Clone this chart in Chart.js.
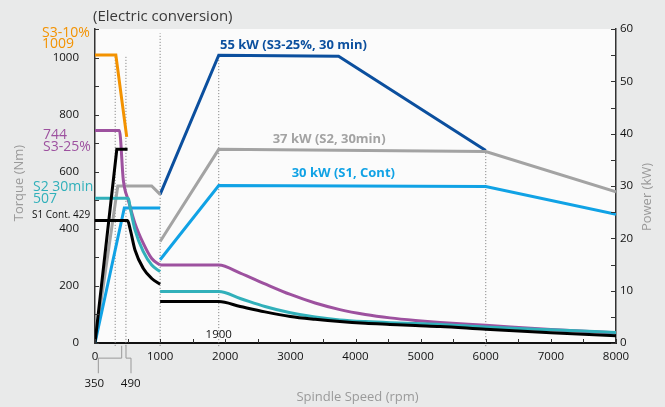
<!DOCTYPE html>
<html>
<head>
<meta charset="utf-8">
<script src="https://cdn.jsdelivr.net/npm/chart.js@4.4.1/dist/chart.umd.min.js"></script>
<style>
  html, body { margin: 0; padding: 0; background: #e9eaea; }
  #wrap { width: 665px; height: 407px; position: relative; }
</style>
</head>
<body>
<div id="wrap"><canvas id="chart"></canvas></div>
<script>
// ---- torque curves, 0-1000 rpm (left axis, Nm) ----
const s3_10Rpm = [0, 320, 487];
const s3_10Torque = [1009, 1009, 722];
const s3_25LowRpm = [0, 375, 435, 512, 614, 742, 871, 1000];
const s3_25LowTorque = [744, 744, 570, 500, 419, 349, 296, 273];
const s2LowRpm = [0, 512, 538, 614, 742, 871, 1000];
const s2LowTorque = [507, 507, 477, 396, 320, 273, 250];
const s1LowRpm = [0, 500, 538, 614, 742, 871, 1000];
const s1LowTorque = [429, 429, 401, 326, 261, 226, 206];

// ---- torque curves, 1000-8000 rpm ----
const highRpm = [1000, 1900, 2230, 2610, 3000, 3380, 3760, 4150, 4530, 4920, 5300, 6000, 7000, 8000];
const s3_25HighTorque = [273, 273, 245, 207, 170, 140, 117, 100, 88, 79, 72, 62, 47, 36];
const s2HighTorque = [180, 180, 156, 128, 106, 91, 81, 75, 71, 68, 65, 56, 46, 37];
const s1HighTorque = [145, 145, 128, 109, 93, 83, 75, 69, 65, 61, 58, 48, 36, 25];

// ---- power curves (right axis, kW) ----
const peakPowerRpm = [0, 335, 500];
const peakPower = [0, 37, 37];
const s2LowPowerRpm = [0, 350, 870, 1000];
const s2LowPower = [0, 30, 30, 28.4];
const s1LowPowerRpm = [0, 450, 1000];
const s1LowPower = [0, 25.8, 25.8];
const s3_25PowerRpm = [1000, 1900, 3740, 6000];
const s3_25Power = [28.4, 55, 54.8, 36.8];
const s2PowerRpm = [1000, 1900, 6000, 8000];
const s2Power = [19.4, 37, 36.6, 28.9];
const s1PowerRpm = [1000, 1900, 6000, 8000];
const s1Power = [15.9, 30.1, 29.9, 24.6];

// ---- dotted guides and the 350 / 490 brackets ----
const torqueGuideRpm = [310, 475, 1000];
const torqueGuideTop = [1009, 1009, 1085];
const powerGuideRpm = [1900, 6000];
const powerGuideTop = [55, 36.8];
const bracket350Rpm = [51, 51, 410, 410];
const bracket490Rpm = [553, 553, 476, 476];
const bracketTorque = [-106, -53, -53, -10];

const FONT = "'Open Sans', sans-serif";
const C = {
  orange: '#f39200', purple: '#9d519f', teal: '#31b0ba', cyan: '#10a2e5',
  navy: '#0b4f9e', gray: '#a3a3a3', black: '#000000', guide: '#777777', axisTitle: '#9a9a9a'
};

const pts = (xs, ys) => xs.map((x, i) => ({ x, y: ys[i] }));

function curve(xs, ys, color, axis) {
  return { data: pts(xs, ys), borderColor: color, borderWidth: 3, pointRadius: 0,
    yAxisID: axis, tension: 0.35, cubicInterpolationMode: 'monotone', fill: false };
}
function straight(xs, ys, color, axis) {
  return { data: pts(xs, ys), borderColor: color, borderWidth: 3, pointRadius: 0,
    yAxisID: axis, tension: 0, fill: false };
}
function guide(x, top, axis) {
  return { data: [{ x, y: axis === 'y' ? -10 : -0.6 }, { x, y: top }], borderColor: C.guide,
    borderWidth: 1, borderDash: [1, 2], pointRadius: 0, yAxisID: axis, clip: false };
}
function bracket(xs) {
  return { data: pts(xs, bracketTorque), borderColor: '#999999', borderWidth: 1,
    pointRadius: 0, yAxisID: 'y', clip: false, tension: 0 };
}

const datasets = [
  straight(peakPowerRpm, peakPower, C.black, 'y2'),
  straight(s3_10Rpm, s3_10Torque, C.orange, 'y'),
  curve(s1LowRpm, s1LowTorque, C.black, 'y'),
  curve(s2LowRpm, s2LowTorque, C.teal, 'y'),
  curve(s3_25LowRpm, s3_25LowTorque, C.purple, 'y'),
  straight(s1LowPowerRpm, s1LowPower, C.cyan, 'y2'),
  straight(s2LowPowerRpm, s2LowPower, C.gray, 'y2'),
  curve(highRpm, s1HighTorque, C.black, 'y'),
  curve(highRpm, s2HighTorque, C.teal, 'y'),
  curve(highRpm, s3_25HighTorque, C.purple, 'y'),
  straight(s1PowerRpm, s1Power, C.cyan, 'y2'),
  straight(s2PowerRpm, s2Power, C.gray, 'y2'),
  straight(s3_25PowerRpm, s3_25Power, C.navy, 'y2'),
  ...torqueGuideRpm.map((x, i) => guide(x, torqueGuideTop[i], 'y')),
  ...powerGuideRpm.map((x, i) => guide(x, powerGuideTop[i], 'y2')),
  bracket(bracket350Rpm),
  bracket(bracket490Rpm)
];

// text placed with the scales: value axis + rpm, or offset from the plot's left edge
const notes = [
  { text: '55 kW (S3-25%, 30 min)', rpm: 1919, axis: 'y2', v: 56.8, color: C.navy, font: 'bold 13px ' + FONT },
  { text: '37 kW (S2, 30min)', rpm: 2728, axis: 'y2', v: 39.0, color: C.gray, font: 'bold 13px ' + FONT },
  { text: '30 kW (S1, Cont)', rpm: 3020, axis: 'y2', v: 32.5, color: C.cyan, font: 'bold 13px ' + FONT },
  { text: '1900', rpm: 1900, axis: 'y', v: 28, color: '#111', font: '11.5px ' + FONT, align: 'center' },
  { text: '350', rpm: -11, axis: 'y', v: -141, color: '#111', font: '11.5px ' + FONT, align: 'center' },
  { text: '490', rpm: 548, axis: 'y', v: -141, color: '#111', font: '11.5px ' + FONT, align: 'center' },
  { text: 'S3-10%', dx: -53, axis: 'y', v: 1087, color: C.orange, font: '14px ' + FONT },
  { text: '1009', dx: -53, axis: 'y', v: 1048, color: C.orange, font: '14px ' + FONT },
  { text: '744', dx: -52, axis: 'y', v: 728, color: C.purple, font: '14px ' + FONT },
  { text: 'S3-25%', dx: -52, axis: 'y', v: 687, color: C.purple, font: '14px ' + FONT },
  { text: 'S2 30min', dx: -62, axis: 'y', v: 546, color: C.teal, font: '14px ' + FONT },
  { text: '507', dx: -62, axis: 'y', v: 503, color: C.teal, font: '14px ' + FONT },
  { text: 'S1 Cont. 429', dx: -63, axis: 'y', v: 448, color: '#111', font: '10px ' + FONT }
];

const decor = {
  id: 'decor',
  beforeDraw(chart) {
    const { ctx, chartArea: a } = chart;
    ctx.save();
    ctx.fillStyle = '#fbfbfb';
    ctx.fillRect(a.left, a.top, a.right - a.left, a.bottom - a.top);
    ctx.restore();
  },
  afterDraw(chart) {
    const { ctx, chartArea: a, scales } = chart;
    ctx.save();
    // inward tick marks
    ctx.strokeStyle = '#333';
    ctx.lineWidth = 1;
    scales.x.ticks.forEach(t => {
      const p = Math.round(scales.x.getPixelForValue(t.value)) + 0.5;
      ctx.beginPath(); ctx.moveTo(p, a.bottom); ctx.lineTo(p, a.bottom - 4); ctx.stroke();
    });
    scales.y.ticks.forEach(t => {
      const p = Math.round(scales.y.getPixelForValue(t.value)) + 0.5;
      ctx.beginPath(); ctx.moveTo(a.left, p); ctx.lineTo(a.left + 4, p); ctx.stroke();
    });
    scales.y2.ticks.forEach(t => {
      const p = Math.round(scales.y2.getPixelForValue(t.value)) + 0.5;
      ctx.beginPath(); ctx.moveTo(a.right, p); ctx.lineTo(a.right - 5, p); ctx.stroke();
    });

    // annotations
    ctx.textBaseline = 'middle';
    notes.forEach(n => {
      const y = scales[n.axis].getPixelForValue(n.v);
      const x = n.rpm !== undefined ? scales.x.getPixelForValue(n.rpm) : a.left + n.dx;
      ctx.font = n.font;
      ctx.fillStyle = n.color;
      ctx.textAlign = n.align || 'left';
      ctx.fillText(n.text, x, y);
    });

    // titles
    ctx.fillStyle = '#3a3a3a';
    ctx.font = '15px ' + FONT;
    ctx.textAlign = 'left';
    ctx.fillText('(Electric conversion)', 93, 17);

    ctx.fillStyle = C.axisTitle;
    ctx.font = '13px ' + FONT;
    ctx.textAlign = 'center';
    ctx.fillText('Spindle Speed (rpm)', (a.left + a.right) / 2 + 2, 397);

    ctx.save();
    ctx.translate(19, 183);
    ctx.rotate(-Math.PI / 2);
    ctx.fillText('Torque (Nm)', 0, 0);
    ctx.restore();

    ctx.save();
    ctx.translate(647, 197);
    ctx.rotate(-Math.PI / 2);
    ctx.fillText('Power (kW)', 0, 0);
    ctx.restore();

    ctx.restore();
  }
};

const tickFont = { family: FONT, size: 11.5 };

new Chart(document.getElementById('chart'), {
  type: 'line',
  data: { datasets },
  options: {
    responsive: true,
    maintainAspectRatio: false,
    animation: false,
    layout: { padding: { top: 29, left: 0, right: 0, bottom: 0 } },
    plugins: { legend: { display: false }, tooltip: { enabled: false } },
    scales: {
      x: {
        type: 'linear', min: 0, max: 8000,
        grid: { display: false, drawTicks: false },
        border: { display: true, color: '#111', width: 2 },
        ticks: {
          stepSize: 500, autoSkip: false, maxRotation: 0, padding: 7,
          color: '#111', font: tickFont,
          callback: v => (v % 1000 === 0 ? String(v) : '')
        },
        afterFit: s => { s.height = 64; }
      },
      y: {
        type: 'linear', position: 'left', min: 0, max: 1100,
        grid: { display: false, drawTicks: false },
        border: { display: true, color: '#333', width: 1.5 },
        ticks: {
          stepSize: 100, autoSkip: false, padding: 16,
          color: '#111', font: tickFont,
          callback: v => (v % 200 === 0 && v <= 1000 ? String(v) : '')
        },
        afterFit: s => { s.width = 95; }
      },
      y2: {
        type: 'linear', position: 'right', min: 0, max: 60,
        grid: { display: false, drawTicks: false },
        border: { display: true, color: '#333', width: 1.5 },
        ticks: {
          stepSize: 5, autoSkip: false, padding: 4,
          color: '#111', font: tickFont,
          callback: v => (v % 10 === 0 ? String(v) : '')
        },
        afterFit: s => { s.width = 49; }
      }
    }
  },
  plugins: [decor]
});
</script>
</body>
</html>
